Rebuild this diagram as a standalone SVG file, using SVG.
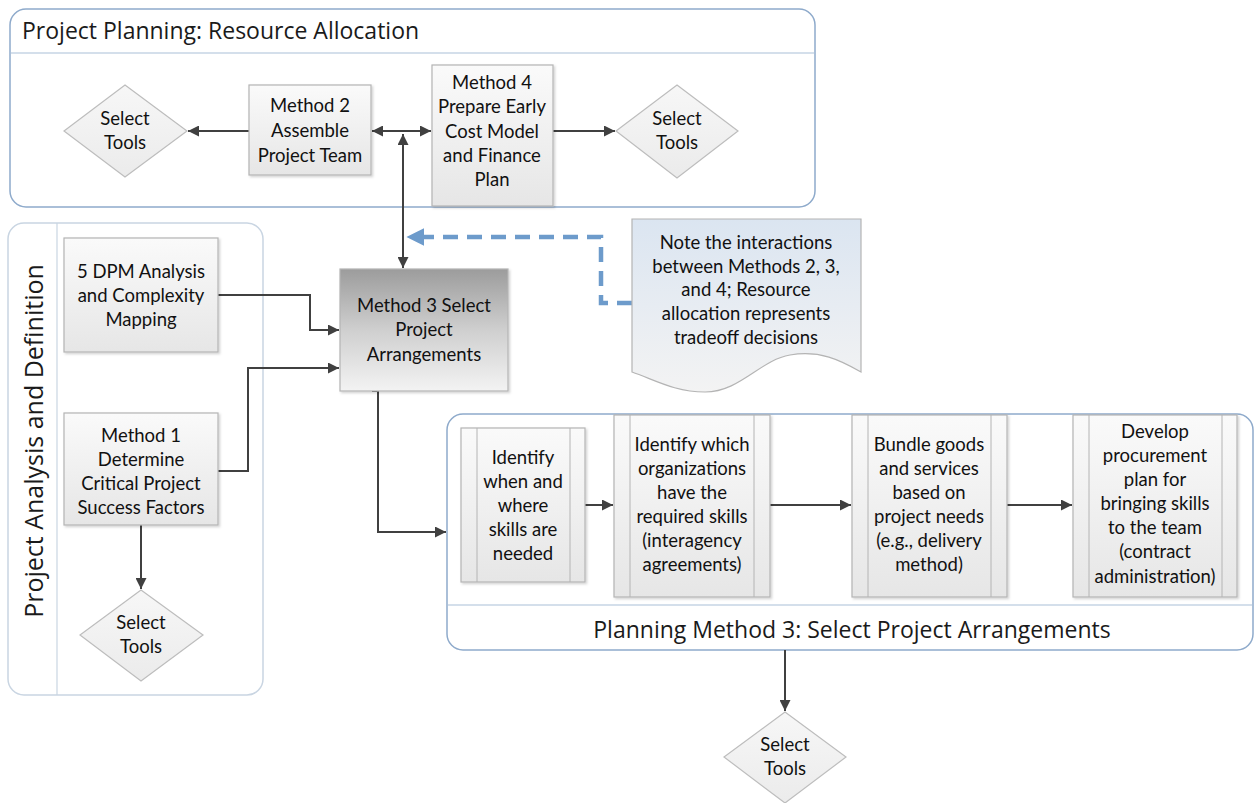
<svg xmlns="http://www.w3.org/2000/svg" width="1254" height="803" viewBox="0 0 1254 803">
<style>
.pool{fill:#ffffff;stroke:#8eaacb;stroke-width:1.5}
.poolL{fill:#ffffff;stroke:#c9d5e2;stroke-width:1.5}
.sep{stroke:#a9bfd8;stroke-width:1.2;fill:none}
.box{fill:url(#gBox);stroke:#b4b4b4;stroke-width:1.2;filter:url(#sh)}
.inner{stroke:#b4b4b4;stroke-width:1;fill:none}
.dia{fill:url(#gDia);stroke:#bdbdbd;stroke-width:1.2}
.t{font-family:Lato,"Liberation Sans",sans-serif;font-size:18.5px;fill:#111;text-anchor:middle}
.title{font-family:"Open Sans","Liberation Sans",sans-serif;font-size:23px;fill:#1a1a1a}
.conn{stroke:#404040;stroke-width:2;fill:none}
</style>
<defs>
<linearGradient id="gBox" x1="0" y1="0" x2="0" y2="1"><stop offset="0" stop-color="#fafafa"/><stop offset="1" stop-color="#e6e6e6"/></linearGradient>
<linearGradient id="gDia" x1="0" y1="0" x2="0" y2="1"><stop offset="0" stop-color="#f7f7f7"/><stop offset="1" stop-color="#ebebeb"/></linearGradient>
<linearGradient id="gM3" x1="0" y1="0" x2="0" y2="1"><stop offset="0" stop-color="#9c9c9c"/><stop offset="0.5" stop-color="#cfcfcf"/><stop offset="1" stop-color="#f3f3f3"/></linearGradient>
<linearGradient id="gNote" x1="0" y1="0" x2="0" y2="1"><stop offset="0" stop-color="#dbe5f1"/><stop offset="1" stop-color="#f3f3f3"/></linearGradient>
<filter id="sh" x="-10%" y="-10%" width="130%" height="130%"><feDropShadow dx="1.5" dy="1.5" stdDeviation="1" flood-color="#000" flood-opacity="0.18"/></filter>
<marker id="ar" viewBox="0 0 10 10" refX="10" refY="5" markerWidth="11" markerHeight="11" markerUnits="userSpaceOnUse" orient="auto-start-reverse"><path d="M0,0 L10,5 L0,10 z" fill="#404040"/></marker>
<marker id="arB" viewBox="0 0 10 10" refX="8" refY="5" markerWidth="18" markerHeight="18" markerUnits="userSpaceOnUse" orient="auto"><path d="M0,0 L10,5 L0,10 z" fill="#6d9bcb"/></marker>
</defs>

<g id="pool-resource">
<rect class="pool" x="10" y="9" width="805" height="198" rx="16"/>
<line class="sep" x1="10" y1="53" x2="815" y2="53"/>
<text class="title" x="22" y="39">Project Planning: Resource Allocation</text>
</g>

<g id="pool-analysis">
<rect class="poolL" x="8" y="223" width="255" height="472" rx="16"/>
<line x1="57" y1="223" x2="57" y2="695" stroke="#c9d5e2" stroke-width="1.2"/>
<text class="title" x="0" y="0" text-anchor="middle" transform="translate(43,441) rotate(-90)" style="font-size:25px">Project Analysis and Definition</text>
</g>

<g id="pool-method3">
<rect class="pool" x="447" y="414" width="806" height="236" rx="16"/>
<line class="sep" x1="447" y1="605" x2="1253" y2="605"/>
<text class="title" x="852" y="638" text-anchor="middle">Planning Method 3: Select Project Arrangements</text>
</g>

<g id="connectors">
<line class="conn" x1="249" y1="131" x2="188" y2="131" marker-end="url(#ar)"/>
<line class="conn" x1="372" y1="131" x2="431" y2="131" marker-start="url(#ar)" marker-end="url(#ar)"/>
<line class="conn" x1="553" y1="131" x2="615" y2="131" marker-end="url(#ar)"/>
<line class="conn" x1="403" y1="268" x2="403" y2="134" marker-end="url(#ar)"/>
<line class="conn" x1="403" y1="200" x2="403" y2="268" marker-end="url(#ar)"/>
<polyline class="conn" points="218,295 310,295 310,330 339,330" marker-end="url(#ar)"/>
<polyline class="conn" points="218,471 248,471 248,368 339,368" marker-end="url(#ar)"/>
<polyline class="conn" points="372,391 378,391 378,532 446,532" marker-end="url(#ar)"/>
<line class="conn" x1="141" y1="525" x2="141" y2="589" marker-end="url(#ar)"/>
<line class="conn" x1="585" y1="505" x2="613" y2="505" marker-end="url(#ar)"/>
<line class="conn" x1="770" y1="505" x2="851" y2="505" marker-end="url(#ar)"/>
<line class="conn" x1="1007" y1="505" x2="1072" y2="505" marker-end="url(#ar)"/>
<line class="conn" x1="785" y1="650" x2="785" y2="711" marker-end="url(#ar)"/>
<polyline points="632,303 601,303 601,237 410,237" fill="none" stroke="#6d9bcb" stroke-width="4.5" stroke-dasharray="15,9" marker-end="url(#arB)"/>
</g>

<g id="tools1">
<polygon class="dia" points="125,85 187,131 125,177 64,131"/>
<text class="t" x="125" y="125">Select</text><text class="t" x="125" y="149">Tools</text>
</g>

<g id="method2">
<rect class="box" x="249" y="85" width="122" height="90"/>
<text class="t" x="310" y="112">Method 2</text><text class="t" x="310" y="137">Assemble</text><text class="t" x="310" y="162">Project Team</text>
</g>

<g id="method4">
<rect class="box" x="432" y="65" width="121" height="141"/>
<text class="t" x="492" y="89">Method 4</text><text class="t" x="492" y="113">Prepare Early</text><text class="t" x="492" y="138">Cost Model</text><text class="t" x="492" y="162">and Finance</text><text class="t" x="492" y="186">Plan</text>
</g>

<g id="tools2">
<polygon class="dia" points="677,85 738,131 677,178 616,131"/>
<text class="t" x="677" y="125">Select</text><text class="t" x="677" y="149">Tools</text>
</g>

<g id="dpm">
<rect class="box" x="64" y="238" width="154" height="114"/>
<text class="t" x="141" y="278">5 DPM Analysis</text><text class="t" x="141" y="302">and Complexity</text><text class="t" x="141" y="326">Mapping</text>
</g>

<g id="method1">
<rect class="box" x="64" y="413" width="154" height="112"/>
<text class="t" x="141" y="442">Method 1</text><text class="t" x="141" y="466">Determine</text><text class="t" x="141" y="490">Critical Project</text><text class="t" x="141" y="514">Success Factors</text>
</g>

<g id="tools3">
<polygon class="dia" points="141,590 203,635 141,681 80,635"/>
<text class="t" x="141" y="629">Select</text><text class="t" x="141" y="653">Tools</text>
</g>

<g id="method3">
<rect x="340" y="269" width="168" height="122" fill="url(#gM3)" stroke="#b4b4b4" stroke-width="1.2" filter="url(#sh)"/>
<text class="t" x="424" y="312">Method 3 Select</text><text class="t" x="424" y="336">Project</text><text class="t" x="424" y="361">Arrangements</text>
</g>

<g id="note">
<path d="M632,219 L861,219 L861,372 C840,360 820,350 790,355 C760,360 740,392 705,392 C675,392 655,380 632,372 Z" fill="url(#gNote)" stroke="#b4b4b4" stroke-width="1.2"/>
<text class="t" x="746" y="249">Note the interactions</text><text class="t" x="746" y="273">between Methods 2, 3,</text><text class="t" x="746" y="296">and 4;  Resource</text><text class="t" x="746" y="320">allocation represents</text><text class="t" x="746" y="344">tradeoff decisions</text>
</g>

<g id="stepA">
<rect class="box" x="461" y="428" width="124" height="154"/>
<line class="inner" x1="477" y1="428" x2="477" y2="582"/><line class="inner" x1="570" y1="428" x2="570" y2="582"/>
<text class="t" x="523" y="464">Identify</text><text class="t" x="523" y="488">when and</text><text class="t" x="523" y="512">where</text><text class="t" x="523" y="536">skills are</text><text class="t" x="523" y="560">needed</text>
</g>

<g id="stepB">
<rect class="box" x="614" y="415" width="156" height="182"/>
<line class="inner" x1="630" y1="415" x2="630" y2="597"/><line class="inner" x1="754" y1="415" x2="754" y2="597"/>
<text class="t" x="692" y="451">Identify which</text><text class="t" x="692" y="475">organizations</text><text class="t" x="692" y="499">have the</text><text class="t" x="692" y="523">required skills</text><text class="t" x="692" y="547">(interagency</text><text class="t" x="692" y="571">agreements)</text>
</g>

<g id="stepC">
<rect class="box" x="852" y="415" width="155" height="182"/>
<line class="inner" x1="868" y1="415" x2="868" y2="597"/><line class="inner" x1="991" y1="415" x2="991" y2="597"/>
<text class="t" x="929" y="451">Bundle goods</text><text class="t" x="929" y="475">and services</text><text class="t" x="929" y="499">based on</text><text class="t" x="929" y="523">project needs</text><text class="t" x="929" y="547">(e.g., delivery</text><text class="t" x="929" y="571">method)</text>
</g>

<g id="stepD">
<rect class="box" x="1073" y="415" width="164" height="182"/>
<line class="inner" x1="1089" y1="415" x2="1089" y2="597"/><line class="inner" x1="1222" y1="415" x2="1222" y2="597"/>
<text class="t" x="1155" y="438">Develop</text><text class="t" x="1155" y="462">procurement</text><text class="t" x="1155" y="486">plan for</text><text class="t" x="1155" y="510">bringing skills</text><text class="t" x="1155" y="534">to the team</text><text class="t" x="1155" y="558">(contract</text><text class="t" x="1155" y="583">administration)</text>
</g>

<g id="tools4">
<polygon class="dia" points="785,712 846,757 785,803 724,757"/>
<text class="t" x="785" y="751">Select</text><text class="t" x="785" y="775">Tools</text>
</g>
</svg>
